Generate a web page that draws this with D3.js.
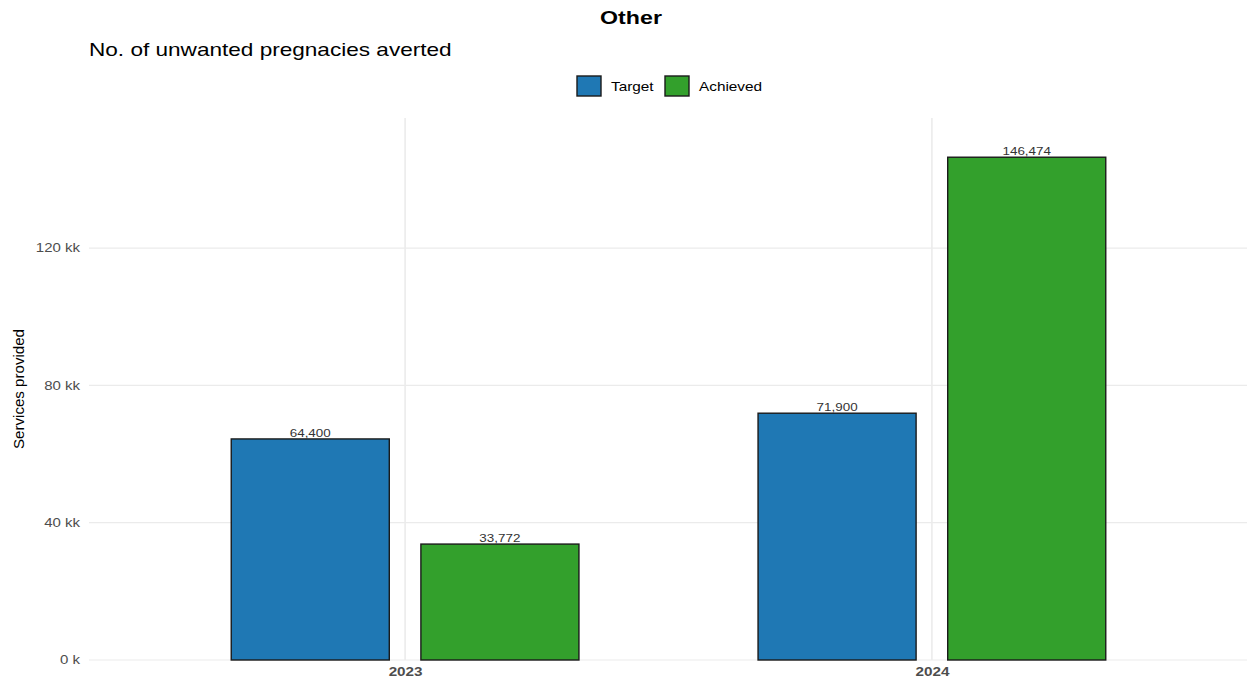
<!DOCTYPE html>
<html>
<head>
<meta charset="utf-8">
<script src="https://cdn.jsdelivr.net/npm/d3@7"></script>
<style>
  html, body { margin: 0; padding: 0; background: #fff; }
  svg { display: block; font-family: "Liberation Sans", Arial, sans-serif; }
</style>
</head>
<body>
<svg id="chart" width="1247" height="683"></svg>
<script>
// Data
const years = ["2023", "2024"];
const seriesNames = ["Target", "Achieved"];
const targetValues = [64400, 71900];
const achievedValues = [33772, 146474];
const yTickValues = [0, 40000, 80000, 120000];
const yTickLabels = ["0 k", "40 kk", "80 kk", "120 kk"];
const seriesColors = ["#1f78b4", "#33a02c"];

const rows = years.map((y, i) => ({
  year: y,
  values: [
    { series: seriesNames[0], value: targetValues[i] },
    { series: seriesNames[1], value: achievedValues[i] }
  ]
}));

const svg = d3.select("#chart");
const panel = { left: 89, right: 1248, top: 118, bottom: 660 };

// Text is drawn slightly wide
const STRETCH = 1.22;
function widen(sel, factor) {
  sel.each(function () {
    const len = this.getComputedTextLength();
    d3.select(this).attr("textLength", len * (factor || STRETCH)).attr("lengthAdjust", "spacingAndGlyphs");
  });
}

// Discrete x positions with 0.6 expansion on each side
const xCont = d3.scaleLinear().domain([0.4, 2.6]).range([panel.left, panel.right]);
const xPos = d3.scaleOrdinal().domain(years).range([1, 2]);
const y = d3.scaleLinear().domain([0, 157900]).range([panel.bottom, panel.top]);
const color = d3.scaleOrdinal().domain(seriesNames).range(seriesColors);

const barWidth = 0.3;
const dodge = 0.18;
const offset = d3.scaleOrdinal().domain(seriesNames).range([-dodge, dodge]);

// Grid
const grid = svg.append("g");
grid.selectAll("line.h").data(yTickValues).join("line")
  .attr("x1", panel.left).attr("x2", panel.right)
  .attr("y1", d => y(d)).attr("y2", d => y(d))
  .attr("stroke", "#ebebeb").attr("stroke-width", 1.2);
grid.selectAll("line.v").data(years).join("line")
  .attr("x1", d => xCont(xPos(d))).attr("x2", d => xCont(xPos(d)))
  .attr("y1", panel.top).attr("y2", panel.bottom)
  .attr("stroke", "#ebebeb").attr("stroke-width", 1.6);

// Bars
const groups = svg.append("g").selectAll("g").data(rows).join("g");
groups.selectAll("rect").data(d => d.values.map(v => ({ ...v, year: d.year }))).join("rect")
  .attr("x", d => xCont(xPos(d.year) + offset(d.series) - barWidth / 2))
  .attr("width", d => xCont(xPos(d.year) + offset(d.series) + barWidth / 2) - xCont(xPos(d.year) + offset(d.series) - barWidth / 2))
  .attr("y", d => y(d.value))
  .attr("height", d => y(0) - y(d.value))
  .attr("fill", d => color(d.series))
  .attr("stroke", "#1a1a1a").attr("stroke-width", 1.4);

// Value labels
const valueLabels = groups.selectAll("text").data(d => d.values.map(v => ({ ...v, year: d.year }))).join("text")
  .attr("x", d => xCont(xPos(d.year) + offset(d.series)))
  .attr("y", d => y(d.value) - 2)
  .attr("text-anchor", "middle")
  .attr("font-size", 11)
  .attr("fill", "#333")
  .text(d => d3.format(",")(d.value));
widen(valueLabels);

// Y axis labels
const yAxis = d3.axisLeft(y).tickValues(yTickValues)
  .tickFormat((d, i) => yTickLabels[i]).tickSize(0).tickPadding(9);
const yg = svg.append("g").attr("transform", `translate(${panel.left},0)`).call(yAxis);
yg.select(".domain").remove();
yg.selectAll("text").attr("font-size", 12).attr("fill", "#4d4d4d")
  .attr("font-family", "Liberation Sans, Arial, sans-serif");
widen(yg.selectAll("text"), 1.25);

// X axis labels
const xAxis = d3.axisBottom(xCont).tickValues([1, 2])
  .tickFormat((d, i) => years[i]).tickSize(0).tickPadding(7);
const xg = svg.append("g").attr("transform", `translate(0,${panel.bottom})`).call(xAxis);
xg.select(".domain").remove();
xg.selectAll("text").attr("font-size", 12.5).attr("font-weight", "bold").attr("fill", "#4d4d4d")
  .attr("font-family", "Liberation Sans, Arial, sans-serif");
widen(xg.selectAll("text"));

// Y axis title
svg.append("text")
  .attr("transform", `translate(24,${(panel.top + panel.bottom) / 2}) rotate(-90)`)
  .attr("text-anchor", "middle")
  .attr("font-size", 15)
  .attr("fill", "#000")
  .attr("textLength", 120).attr("lengthAdjust", "spacingAndGlyphs")
  .text("Services provided");

// Titles
const title = svg.append("text")
  .attr("x", 631).attr("y", 24)
  .attr("text-anchor", "middle")
  .attr("font-size", 19).attr("font-weight", "bold").attr("fill", "#000")
  .text("Other");
widen(title);
const subtitle = svg.append("text")
  .attr("x", panel.left).attr("y", 56)
  .attr("font-size", 18.5).attr("fill", "#000")
  .text("No. of unwanted pregnacies averted");
widen(subtitle);

// Legend
const legendItems = [
  { name: seriesNames[0], x: 577 },
  { name: seriesNames[1], x: 665 }
];
const lg = svg.append("g").selectAll("g").data(legendItems).join("g")
  .attr("transform", d => `translate(${d.x},76)`);
lg.append("rect").attr("width", 24).attr("height", 20)
  .attr("fill", d => color(d.name)).attr("stroke", "#1a1a1a").attr("stroke-width", 1.4);
const legendText = lg.append("text").attr("x", 34).attr("y", 15)
  .attr("font-size", 13).attr("fill", "#000")
  .text(d => d.name);
widen(legendText, 1.18);
</script>
</body>
</html>
